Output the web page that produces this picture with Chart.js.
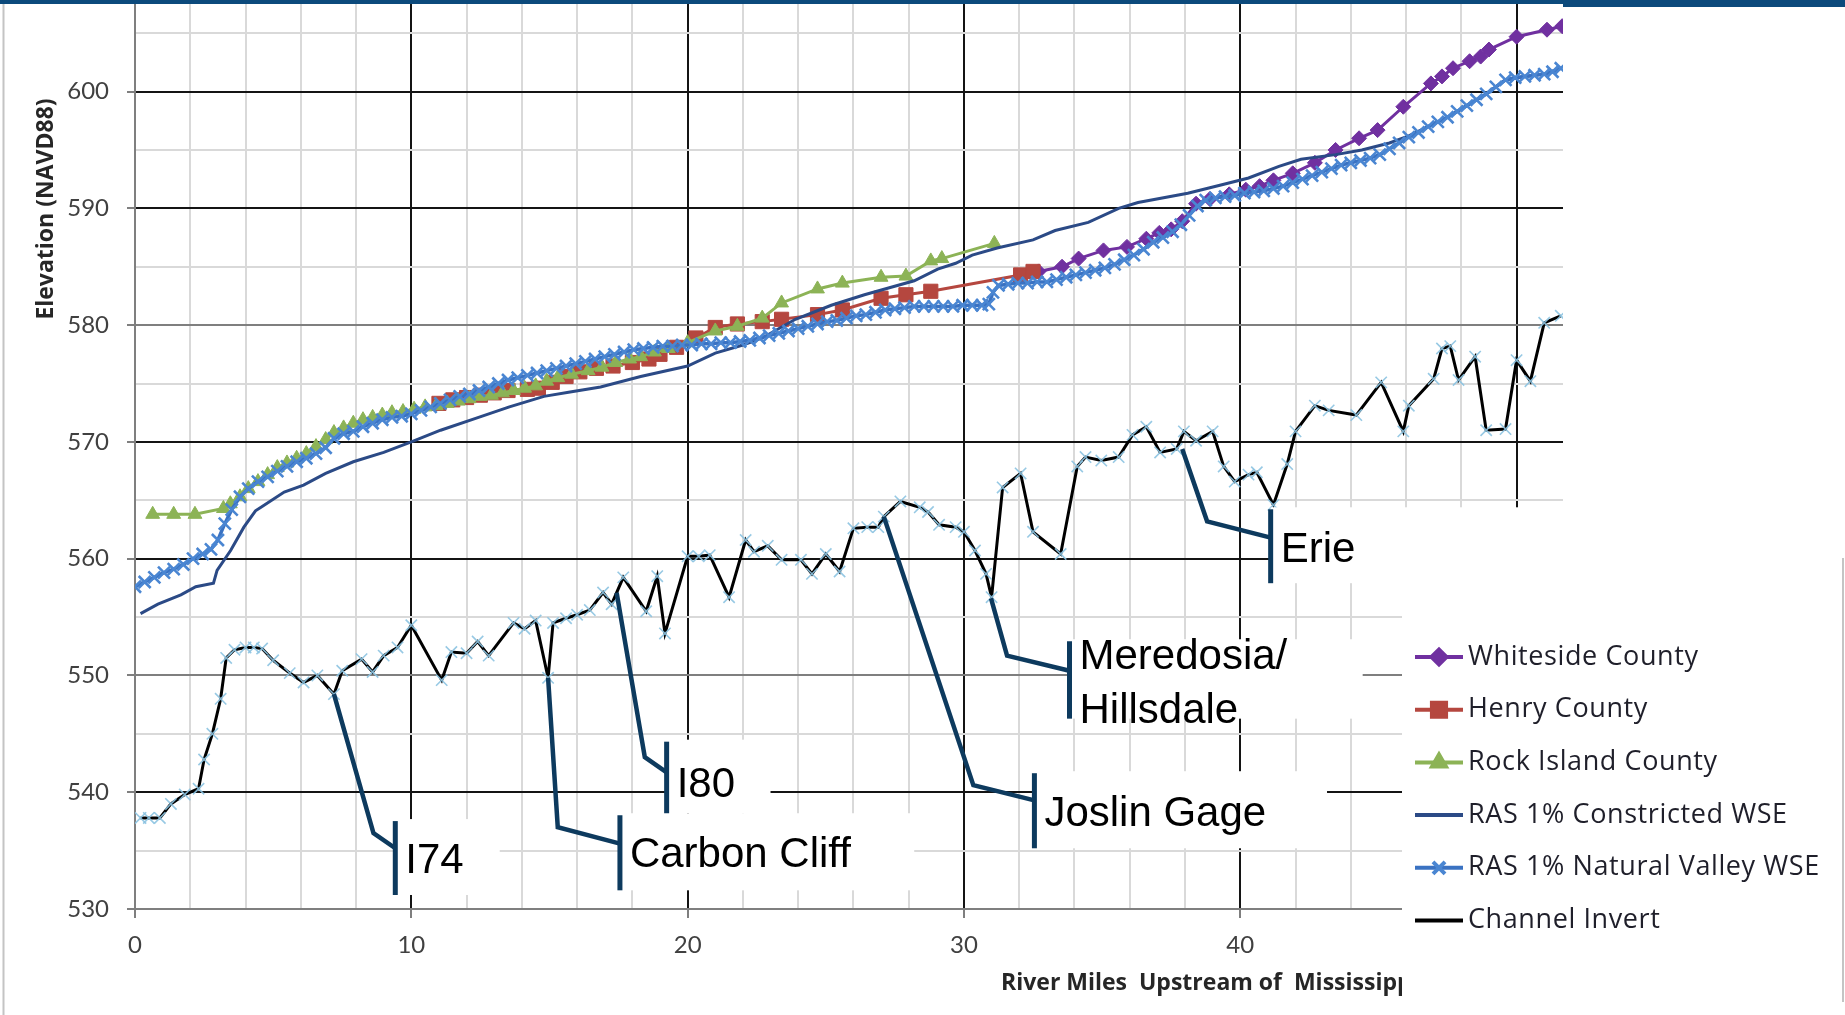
<!DOCTYPE html>
<html>
<head>
<meta charset="utf-8">
<title>Elevation profile</title>
<script src="https://cdn.jsdelivr.net/npm/chart.js@4.4.1/dist/chart.umd.min.js"></script>
<style>
  html, body { margin: 0; padding: 0; background: #fff; }
  #chart { display: block; }
</style>
</head>
<body>
<canvas id="chart" width="1845" height="1015" style="width:1845px;height:1015px"></canvas>
<script>
// tick values (every 2 miles / every 5 ft, labels only on the tens)
const xTickValues = [0,2,4,6,8,10,12,14,16,18,20,22,24,26,28,30,32,34,36,38,40,42,44,46,48,50];
const yTickValues = [530,535,540,545,550,555,560,565,570,575,580,585,590,595,600,605];

// Channel Invert
const invertMiles = [0.2,0.5,0.9,1.3,1.8,2.3,2.5,2.8,3.1,3.3,3.6,4.0,4.3,4.6,5.0,5.6,6.1,6.6,7.2,7.5,
  8.2,8.6,9.0,9.5,10.0,11.1,11.45,12.0,12.4,12.8,13.7,14.1,14.5,14.95,15.13,15.6,16.0,16.46,16.94,17.25,
  17.67,18.5,18.9,19.18,20.0,20.4,20.8,21.5,22.1,22.4,22.9,23.4,24.1,24.5,25.0,25.5,26.0,26.5,26.9,27.1,
  27.7,28.4,28.7,29.1,29.7,30.0,30.4,30.8,31.0,31.4,32.05,32.5,33.5,34.1,34.4,34.97,35.6,36.1,36.6,37.1,
  37.7,37.96,38.4,39.0,39.4,39.8,40.3,40.6,41.2,41.7,42.0,42.7,43.2,44.2,45.1,45.9,46.1,47.0,47.3,47.6,
  47.9,48.5,48.9,49.6,50.0,50.5,51.0,51.6];
const invertElev = [537.8,537.8,537.8,539.0,539.8,540.3,542.8,545.0,548.0,551.5,552.2,552.4,552.4,552.3,551.3,550.2,549.4,550.0,548.4,550.4,
  551.4,550.3,551.7,552.4,554.3,549.6,552.0,551.9,552.9,551.7,554.5,554.0,554.7,549.8,554.5,554.9,555.2,555.6,557.1,556.1,
  558.4,555.5,558.5,553.6,560.2,560.2,560.3,556.7,561.6,560.6,561.1,559.9,559.9,558.7,560.4,558.9,562.6,562.7,562.7,563.6,
  564.9,564.4,564.0,562.9,562.7,562.3,560.7,558.7,556.7,566.1,567.3,562.3,560.4,567.9,568.7,568.4,568.7,570.6,571.3,569.1,
  569.4,570.9,570.1,570.9,567.9,566.6,567.2,567.4,564.6,568.1,570.9,573.1,572.7,572.3,575.1,570.9,573.1,575.4,578.0,578.2,
  575.3,577.3,571.0,571.1,577.0,575.2,580.2,580.8];

// RAS 1% Natural Valley WSE
const valleyMiles = [0.0,0.35,0.7,1.05,1.4,1.75,2.1,2.45,2.75,3.0,3.25,3.5,3.8,4.1,4.45,4.8,5.15,5.5,5.85,6.2,
  6.55,6.9,7.2,7.55,7.9,8.25,8.6,8.95,9.3,9.65,10.0,10.35,10.7,11.05,11.4,11.75,12.1,12.45,12.8,13.15,
  13.5,13.85,14.2,14.55,14.9,15.25,15.6,15.95,16.3,16.65,17.0,17.35,17.7,18.05,18.4,18.75,19.1,19.45,19.8,20.15,
  20.5,20.85,21.2,21.55,21.9,22.25,22.6,22.95,23.3,23.65,24.0,24.35,24.7,25.05,25.4,25.75,26.1,26.45,26.8,27.15,
  27.5,27.85,28.2,28.55,28.9,29.25,29.6,29.95,30.3,30.65,30.9,31.05,31.25,31.6,31.95,32.3,32.65,33.0,33.35,33.7,
  34.05,34.4,34.75,35.1,35.45,35.8,36.15,36.5,36.85,37.2,37.55,37.85,38.15,38.45,38.75,39.1,39.45,39.8,40.15,40.5,
  40.85,41.2,41.55,41.9,42.25,42.6,42.95,43.3,43.65,44.0,44.35,44.7,45.05,45.4,45.75,46.1,46.45,46.8,47.15,47.5,
  47.85,48.2,48.55,48.9,49.25,49.6,49.95,50.3,50.65,51.0,51.3,51.6];
const valleyElev = [557.6,558.0,558.4,558.8,559.1,559.5,560.0,560.4,560.8,561.6,563.0,564.2,565.3,566.0,566.6,567.0,567.5,567.9,568.3,568.6,
  569.0,569.5,570.3,570.7,570.9,571.3,571.6,571.9,572.1,572.2,572.4,572.7,573.0,573.3,573.6,573.9,574.1,574.4,574.7,575.0,
  575.3,575.5,575.7,575.9,576.1,576.3,576.5,576.7,576.9,577.1,577.3,577.5,577.7,577.9,578.0,578.1,578.2,578.2,578.3,578.3,
  578.4,578.4,578.5,578.5,578.6,578.7,578.9,579.1,579.3,579.5,579.7,579.9,580.1,580.3,580.4,580.6,580.8,580.9,581.1,581.3,
  581.4,581.5,581.6,581.6,581.6,581.6,581.6,581.7,581.7,581.7,581.8,582.8,583.4,583.5,583.6,583.6,583.7,583.7,583.9,584.1,
  584.3,584.5,584.7,584.9,585.2,585.6,586.0,586.5,587.1,587.5,588.0,588.6,589.4,590.2,590.7,590.9,591.0,591.1,591.3,591.4,
  591.5,591.7,591.9,592.2,592.5,592.8,593.1,593.4,593.7,593.9,594.1,594.3,594.6,595.1,595.6,596.1,596.5,597.0,597.4,597.8,
  598.3,598.8,599.3,599.8,600.4,601.0,601.2,601.3,601.4,601.5,601.7,602.0];

// RAS 1% Constricted WSE
const constrictedMiles = [0.2,0.83,1.66,2.2,2.84,2.97,3.46,3.94,4.36,4.56,5.4,6.1,6.9,7.9,9.0,10.0,11.06,12.3,13.55,14.8,
  15.8,16.85,18.3,20.0,21.0,22.0,22.7,23.9,25.2,26.4,27.3,28.2,29.05,29.7,30.3,31.2,32.5,33.3,34.5,35.6,
  36.3,38.1,39.3,40.3,41.4,42.2,43.45,44.4,45.4,46.1,46.8,47.5,48.2,48.9,49.6,50.3,51.0,51.6];
const constrictedElev = [555.3,556.1,556.9,557.6,557.9,559.0,560.7,562.7,564.1,564.4,565.7,566.3,567.3,568.3,569.1,570.0,571.0,572.0,573.0,573.9,
  574.3,574.7,575.6,576.5,577.6,578.3,578.9,580.5,581.7,582.6,583.2,583.8,584.8,585.3,586.0,586.6,587.3,588.1,588.8,590.0,
  590.5,591.3,592.0,592.6,593.6,594.2,594.6,595.0,595.6,596.2,597.0,597.8,598.8,599.8,601.0,601.3,601.5,602.0];

// Rock Island County
const rockMiles = [0.64,1.4,2.17,3.2,3.45,3.8,4.1,4.45,4.8,5.15,5.5,5.85,6.2,6.55,6.9,7.2,7.55,7.9,8.25,8.6,
  8.95,9.3,9.7,10.1,10.5,10.9,11.3,11.7,12.1,12.5,12.9,13.3,13.7,14.1,14.5,14.9,15.3,15.8,16.4,16.9,
  17.4,17.9,18.3,18.8,19.3,20.0,21.0,21.8,22.7,23.4,24.7,25.6,27.0,27.9,28.8,29.2,31.1];
const rockElev = [563.8,563.8,563.8,564.3,564.7,565.3,566.0,566.6,567.2,567.8,568.2,568.6,569.0,569.6,570.2,570.8,571.2,571.6,571.9,572.1,
  572.3,572.5,572.6,572.8,573.0,573.1,573.3,573.5,573.7,573.9,574.0,574.2,574.4,574.6,574.8,575.2,575.5,575.8,576.1,576.4,
  576.8,577.1,577.3,577.7,578.0,578.5,579.5,579.9,580.6,581.9,583.1,583.6,584.1,584.2,585.5,585.7,587.0];

// Henry County
const henryMiles = [11.0,11.5,12.0,12.5,13.0,13.5,14.2,14.6,15.1,15.6,16.1,16.7,17.3,18.0,18.6,19.0,19.6,20.3,21.0,21.8,
  22.7,23.4,24.7,25.6,27.0,27.9,28.8,32.05,32.5];
const henryElev = [573.3,573.6,573.8,574.0,574.2,574.4,574.5,574.6,575.1,575.6,576.0,576.3,576.5,576.8,577.1,577.5,578.1,578.9,579.8,580.1,
  580.3,580.5,580.9,581.3,582.3,582.6,582.9,584.3,584.6];

// Whiteside County
const whitesideMiles = [32.7,33.55,34.15,35.05,35.9,36.6,37.07,37.5,37.9,38.4,38.9,39.6,40.2,40.7,41.2,41.9,42.7,43.45,44.3,44.97,
  45.9,46.9,47.3,47.7,48.3,48.7,49.0,50.0,51.1,51.65];
const whitesideElev = [584.6,585.0,585.7,586.4,586.7,587.4,587.9,588.2,588.9,590.4,590.8,591.2,591.6,591.9,592.4,593.0,593.9,595.0,596.0,596.7,
  598.7,600.7,601.3,602.0,602.6,603.0,603.6,604.7,605.3,605.6];

// callouts, placed in data units (leader from the invert down to a labelled box)
const callouts = [
  { lines: ['I74'], from: [7.2, 548.4], elbow: [8.63, 536.5], barX: 9.42, joinY: 535.2, top: 537.7, bottom: 531.2, right: 13.2, textY: [534.4] },
  { lines: ['Carbon Cliff'], from: [14.95, 549.8], elbow: [15.3, 537.0], barX: 17.55, joinY: 535.6, top: 538.2, bottom: 531.6, right: 28.2, textY: [534.9] },
  { lines: ['I80'], from: [17.43, 557.1], elbow: [18.45, 543.0], barX: 19.24, joinY: 541.7, top: 544.5, bottom: 538.2, right: 23.0, textY: [540.85] },
  { lines: ['Joslin Gage'], from: [27.1, 563.6], elbow: [30.34, 540.6], barX: 32.55, joinY: 539.3, top: 541.8, bottom: 535.2, right: 43.14, textY: [538.4] },
  { lines: ['Meredosia/', 'Hillsdale'], from: [30.98, 556.6], elbow: [31.56, 551.7], barX: 33.82, joinY: 550.4, top: 553.1, bottom: 546.3, right: 44.43, textY: [551.8, 547.2] },
  { lines: ['Erie'], from: [37.9, 569.4], elbow: [38.8, 563.2], barX: 41.1, joinY: 561.8, top: 564.4, bottom: 557.9, right: null, textY: [561.0] }
];

const pts = (xs, ys) => xs.map((m, i) => ({ x: m, y: ys[i] }));

function gridColor(v, grayMajors) {
  if (v % 10 !== 0) return '#d9d9d9';
  return grayMajors.includes(v) ? '#7f7f7f' : '#141414';
}

const overlay = {
  id: 'overlay',
  afterDraw(chart) {
    const ctx = chart.ctx;
    const xs = chart.scales.x, ys = chart.scales.y;
    const px = v => xs.getPixelForValue(v);
    const py = v => ys.getPixelForValue(v);
    ctx.save();

    // axis titles
    ctx.fillStyle = '#262626';
    ctx.font = 'bold 23px "Open Sans"';
    ctx.textBaseline = 'middle';
    ctx.textAlign = 'left';
    ctx.fillText('River Miles  Upstream of  Mississippi River', 1001, 983);
    ctx.save();
    ctx.translate(46, 209);
    ctx.rotate(-Math.PI / 2);
    ctx.textAlign = 'center';
    ctx.fillText('Elevation (NAVD88)', 0, 0);
    ctx.restore();

    // white boxes behind the callout labels
    ctx.fillStyle = '#fff';
    callouts.forEach(c => {
      const l = px(c.barX);
      const r = c.right == null ? chart.width : px(c.right);
      ctx.fillRect(l, py(c.top), r - l, py(c.bottom) - py(c.top));
    });

    // leaders, bars, labels
    ctx.strokeStyle = '#0d3a5e';
    ctx.lineJoin = 'miter';
    callouts.forEach(c => {
      ctx.lineWidth = 4.5;
      ctx.beginPath();
      ctx.moveTo(px(c.from[0]), py(c.from[1]));
      ctx.lineTo(px(c.elbow[0]), py(c.elbow[1]));
      ctx.lineTo(px(c.barX), py(c.joinY));
      ctx.stroke();
      ctx.lineWidth = 5;
      ctx.beginPath();
      ctx.moveTo(px(c.barX), py(c.top) + 2);
      ctx.lineTo(px(c.barX), py(c.bottom));
      ctx.stroke();
      ctx.fillStyle = '#000';
      ctx.font = '42px "Liberation Sans", Arial, sans-serif';
      ctx.textAlign = 'left';
      ctx.textBaseline = 'alphabetic';
      c.lines.forEach((t, i) => ctx.fillText(t, px(c.barX) + 10, py(c.textY[i]) + 42 * 0.358));
    });

    // legend panel
    ctx.fillStyle = '#fff';
    ctx.fillRect(1402, 583, chart.width - 1402, chart.height - 583);
    chart.data.datasets.forEach((ds, i) => {
      const yy = 657 + i * 52.7;
      ctx.strokeStyle = ds.borderColor;
      ctx.lineWidth = 4;
      ctx.beginPath();
      ctx.moveTo(1415, yy);
      ctx.lineTo(1463, yy);
      ctx.stroke();
      if (ds.legendMarker !== false) {
        ctx.fillStyle = ds.pointBackgroundColor;
        ctx.strokeStyle = ds.pointBorderColor;
        Chart.helpers.drawPoint(ctx, {
          pointStyle: ds.pointStyle, radius: ds.pointRadius, rotation: 0, borderWidth: ds.pointBorderWidth
        }, 1439, yy);
      }
      ctx.fillStyle = '#1f1f2a';
      ctx.font = '27px "Open Sans"';
      ctx.letterSpacing = '0.6px';
      ctx.textAlign = 'left';
      ctx.textBaseline = 'middle';
      ctx.fillText(ds.label, 1468, yy);
      ctx.letterSpacing = '0px';
    });

    // frame and slide banner
    ctx.strokeStyle = '#c4c4c4';
    ctx.lineWidth = 2;
    ctx.beginPath();
    ctx.moveTo(3.5, 0); ctx.lineTo(3.5, chart.height);
    ctx.moveTo(1843, 558); ctx.lineTo(1843, 1002);
    ctx.stroke();
    ctx.fillStyle = '#0c4a7c';
    ctx.fillRect(0, 0, 1563, 4);
    ctx.fillRect(1563, 0, chart.width - 1563, 7);
    ctx.restore();
  }
};

new Chart(document.getElementById('chart'), {
  type: 'scatter',
  data: {
    datasets: [
      { label: 'Whiteside County', data: pts(whitesideMiles, whitesideElev), showLine: true, order: 5,
        borderColor: '#7030a0', borderWidth: 3, pointStyle: 'rectRot', pointRadius: 7.5,
        pointBackgroundColor: '#7030a0', pointBorderColor: '#7030a0', pointBorderWidth: 1 },
      { label: 'Henry County', data: pts(henryMiles, henryElev), showLine: true, order: 4,
        borderColor: '#b5473f', borderWidth: 3, pointStyle: 'rect', pointRadius: 10,
        pointBackgroundColor: '#b5473f', pointBorderColor: '#b5473f', pointBorderWidth: 1 },
      { label: 'Rock Island County', data: pts(rockMiles, rockElev), showLine: true, order: 3,
        borderColor: '#8cb356', borderWidth: 3, pointStyle: 'triangle', pointRadius: 8,
        pointBackgroundColor: '#8cb356', pointBorderColor: '#8cb356', pointBorderWidth: 1 },
      { label: 'RAS 1% Constricted WSE', data: pts(constrictedMiles, constrictedElev), showLine: true, order: 2,
        borderColor: '#2b4a86', borderWidth: 3, pointRadius: 0, legendMarker: false },
      { label: 'RAS 1% Natural Valley WSE', data: pts(valleyMiles, valleyElev), showLine: true, order: 1,
        borderColor: '#3a72c2', borderWidth: 3.5, pointStyle: 'crossRot', pointRadius: 8.5,
        pointBackgroundColor: '#4a86d2', pointBorderColor: '#4a86d2', pointBorderWidth: 2.6 },
      { label: 'Channel Invert', data: pts(invertMiles, invertElev), showLine: true, order: 0,
        borderColor: '#000000', borderWidth: 3, pointStyle: 'crossRot', pointRadius: 8,
        pointBackgroundColor: 'rgba(140,195,225,0.9)', pointBorderColor: 'rgba(140,195,225,0.9)',
        pointBorderWidth: 1.6, legendMarker: false }
    ]
  },
  options: {
    responsive: false,
    animation: false,
    events: [],
    layout: { autoPadding: false, padding: { left: 0, top: 4, right: 282, bottom: 0 } },
    plugins: { legend: { display: false }, tooltip: { enabled: false } },
    scales: {
      x: {
        type: 'linear', min: 0, max: 51.68,
        afterFit: s => { s.height = 106; s.paddingLeft = 0; s.paddingRight = 0; },
        afterBuildTicks: s => { s.ticks = xTickValues.map(v => ({ value: v })); },
        grid: {
          color: c => gridColor(c.tick.value, [0]),
          lineWidth: 2, tickLength: 9, tickWidth: 2,
          tickColor: c => (c.tick.value % 10 === 0 ? '#7f7f7f' : 'rgba(0,0,0,0)')
        },
        border: { color: '#7f7f7f', width: 2 },
        ticks: {
          autoSkip: false, maxRotation: 0, padding: 13, color: '#404040',
          font: { family: 'Lato', size: 24 },
          callback: v => (v % 10 === 0 ? String(v) : '')
        }
      },
      y: {
        type: 'linear', min: 530, max: 607.5,
        afterFit: s => { s.width = 135; s.paddingTop = 0; s.paddingBottom = 0; },
        afterBuildTicks: s => { s.ticks = yTickValues.map(v => ({ value: v })); },
        grid: {
          color: c => gridColor(c.tick.value, [530, 550, 580]),
          lineWidth: 2, tickLength: 8, tickWidth: 2,
          tickColor: c => (c.tick.value % 10 === 0 ? '#7f7f7f' : 'rgba(0,0,0,0)')
        },
        border: { color: '#7f7f7f', width: 2 },
        ticks: {
          autoSkip: false, padding: 18, color: '#404040',
          font: { family: 'Lato', size: 24 },
          callback: v => (v % 10 === 0 ? String(v) : '')
        }
      }
    }
  },
  plugins: [overlay]
});
</script>
</body>
</html>
